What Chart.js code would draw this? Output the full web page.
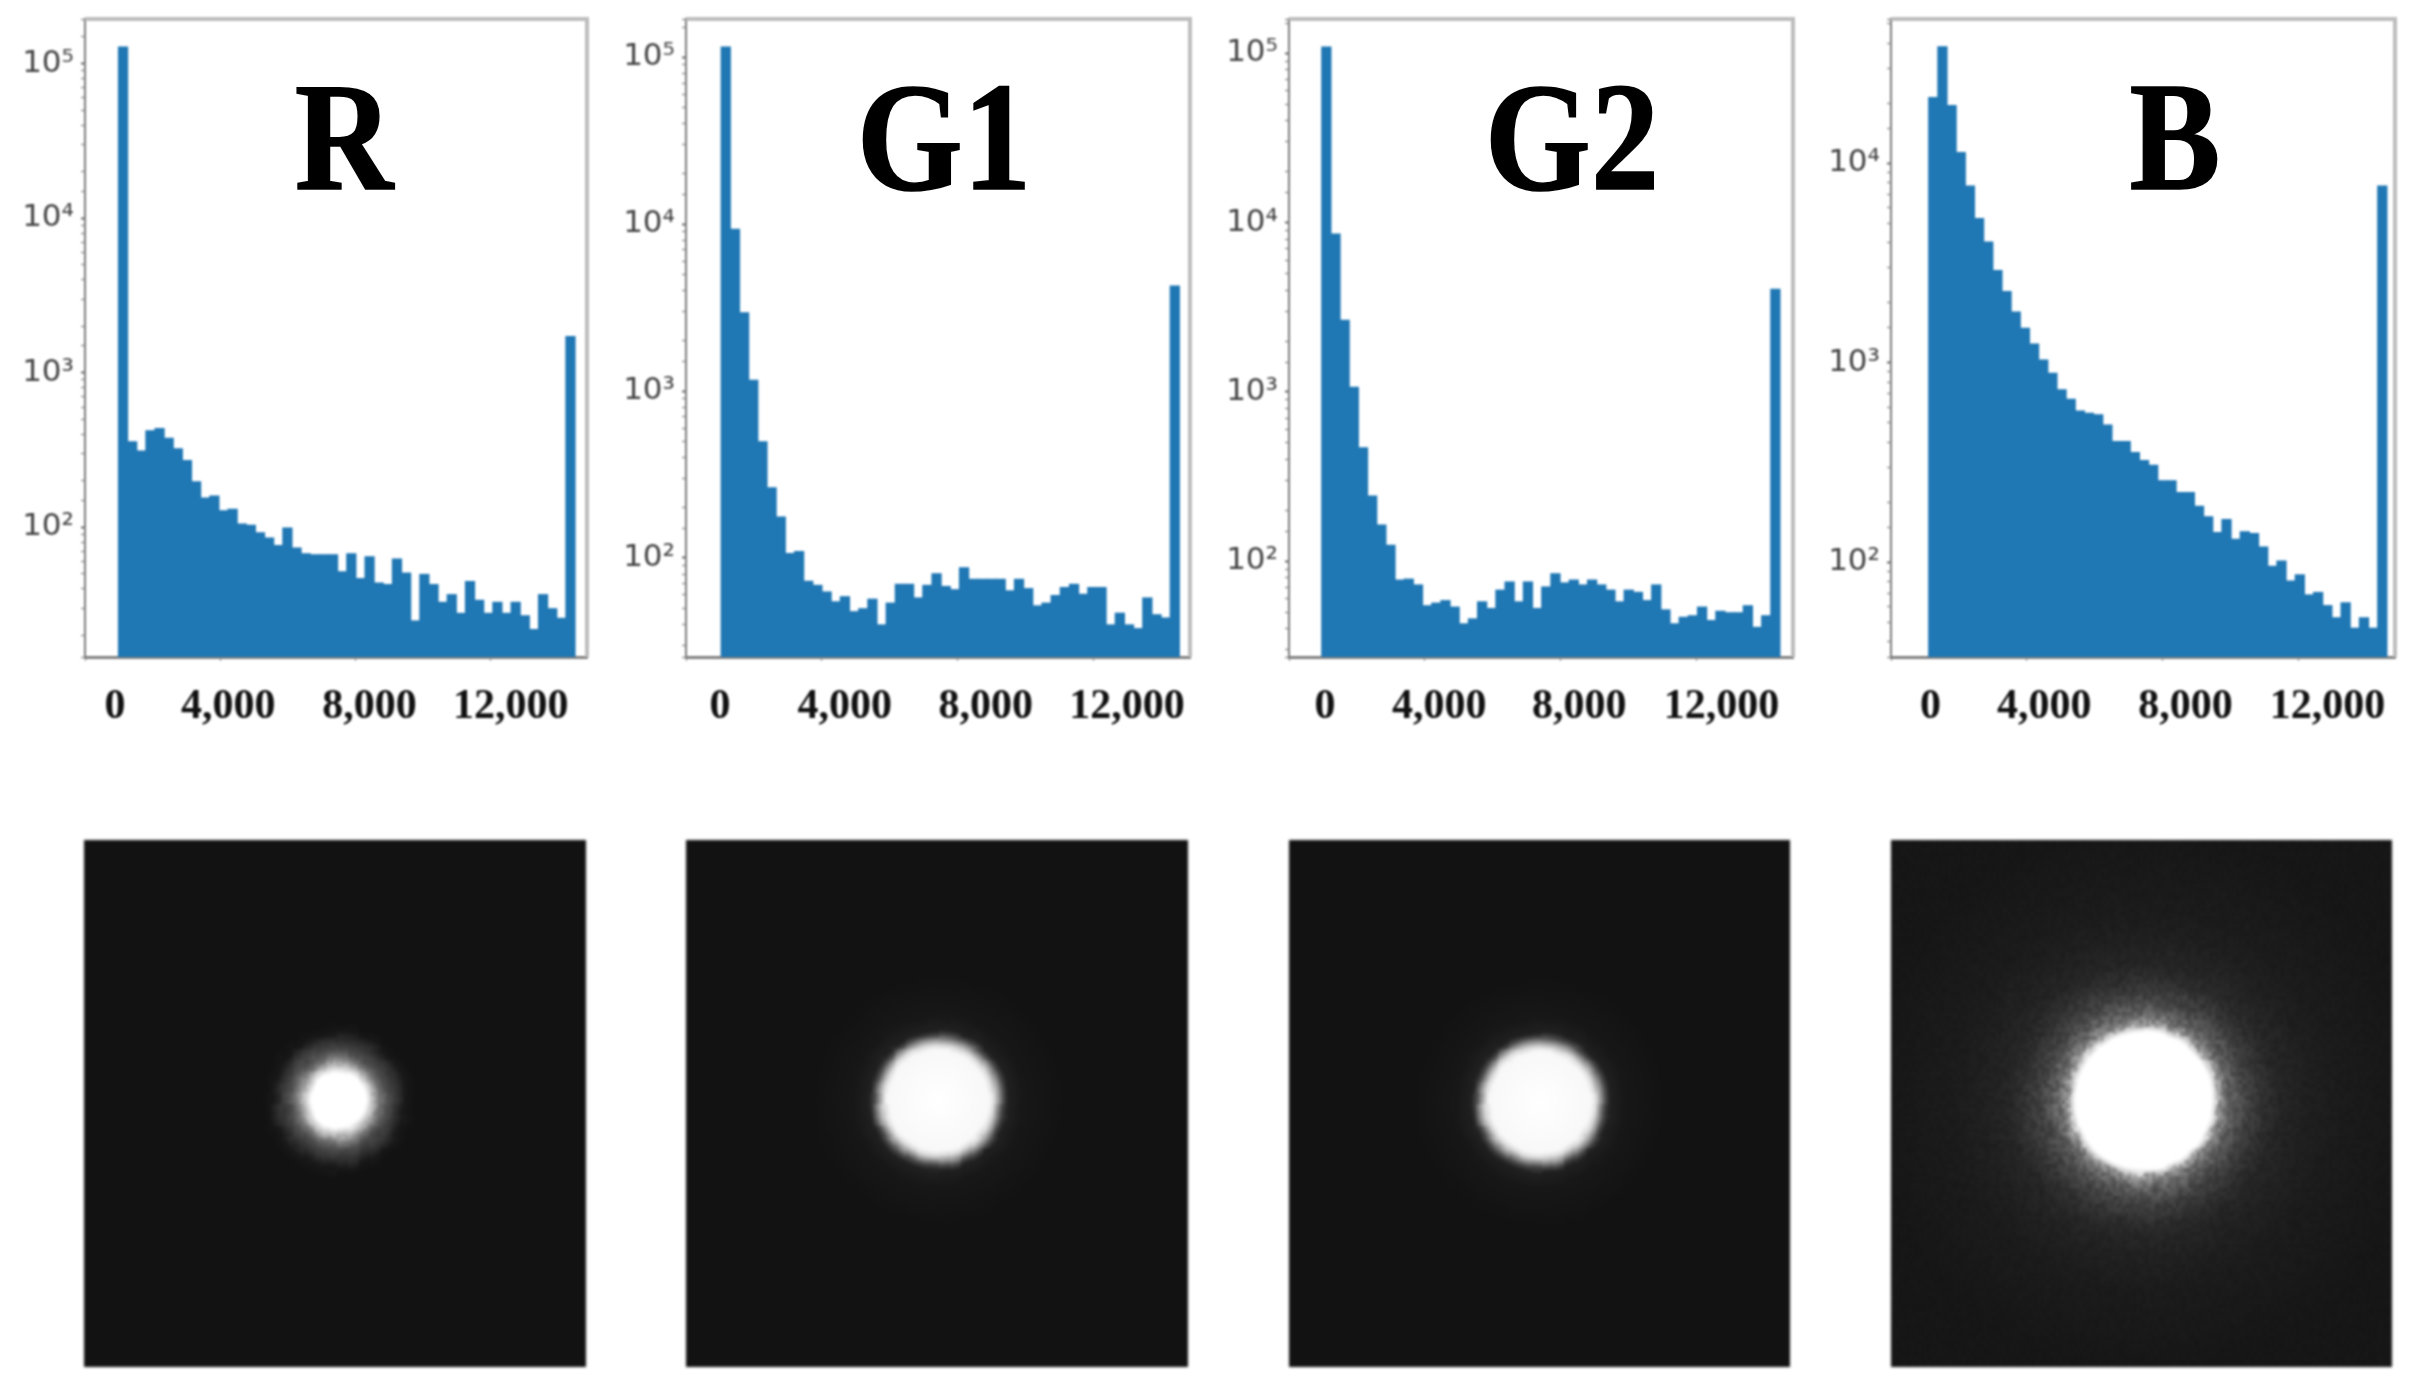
<!DOCTYPE html>
<html>
<head>
<meta charset="utf-8">
<title>R G1 G2 B histograms</title>
<script src="https://cdn.jsdelivr.net/npm/chart.js@4"></script>
<style>
  html, body { margin: 0; background: #fff; }
  #page { position: relative; width: 2410px; height: 1387px; overflow: hidden; }
  canvas { position: absolute; top: 0; filter: blur(0.8px); }
  .letter {
    position: absolute; top: 52px; width: 300px; text-align: center;
    font: bold 155px "Liberation Serif", serif; line-height: 170px; color: #000;
    -webkit-text-stroke: 1.5px #000;
    transform: scaleX(0.88); filter: blur(0.7px);
  }
  canvas.spot { top: 840px; filter: blur(1.7px); }
</style>
</head>
<body>
<div id="page"></div>
<script>
// histogram bin centres (shared, each channel is nudged by its own shift)
const binCenters = [1135, 1405, 1675, 1945, 2215, 2485, 2755, 3025, 3295, 3565, 3835, 4105, 4375, 4645, 4915, 5185, 5455,
  5725, 5995, 6265, 6535, 6805, 7075, 7345, 7615, 7885, 8155, 8425, 8695, 8965, 9235, 9505, 9775, 10045, 10315, 10585,
  10855, 11125, 11395, 11665, 11935, 12205, 12475, 12745, 13015, 13285, 13555, 13825, 14095, 14365];

const rCounts = [129400, 361, 314, 425, 440, 380, 325, 273, 199, 156, 161, 129, 132, 106, 104, 93, 86, 77, 100, 74, 68, 67, 67, 67,
  52, 68, 47, 65, 44, 43, 63, 51, 25, 50, 43, 33, 37, 28, 45, 34, 28, 33, 28, 33, 27, 22, 37, 30, 26, 1730];
const g1Counts = [116000, 9370, 2960, 1170, 501, 265, 177, 107, 110, 73, 69, 63, 55, 59, 48, 50, 57, 40, 54, 70, 70, 58, 69, 81,
  68, 65, 88, 75, 75, 75, 75, 64, 75, 66, 52, 54, 60, 67, 70, 61, 67, 67, 40, 47, 40, 38, 58, 46, 44, 4295];
const g2Counts = [110000, 8630, 2670, 1074, 472, 245, 165, 125, 78, 79, 73, 55, 57, 59, 54, 43, 46, 58, 53, 68, 76, 58, 76, 53,
  71, 85, 75, 78, 73, 78, 73, 68, 58, 68, 66, 59, 73, 52, 43, 47, 48, 54, 45, 51, 50, 50, 55, 41, 48, 4074];
const bCounts = [21500, 38600, 19600, 11400, 7740, 5320, 4050, 2920, 2290, 1810, 1500, 1250, 1040, 892, 737, 661, 577, 561, 552,
  490, 405, 405, 357, 326, 308, 258, 258, 225, 225, 192, 170, 142, 165, 131, 143, 140, 120, 96, 102, 81, 87, 69, 71, 61, 53, 63,
  47, 53, 47, 7740];

const xTicks = [0, 4000, 8000, 12000];
const xTickLabels = ['0', '4,000', '8,000', '12,000'];
const yTickLabels = { 100: '10²', 1000: '10³', 10000: '10⁴', 100000: '10⁵' };

// the x labels in the figure are pasted on and don't sit right under their ticks, so they get their own axis
const panels = [
  { title: 'R',  counts: rCounts,  left: 85,   width: 501, titleX: 344,  xMax: 14844, shift: -10, yMin: 14.5, yMax: 194600, labelAt: [889, 4237, 8415, 12593] },
  { title: 'G1', counts: g1Counts, left: 686,  width: 503, titleX: 944,  xMax: 14849, shift: 37,  yMin: 25.5, yMax: 169400, labelAt: [1004, 4680, 8828, 12990] },
  { title: 'G2', counts: g2Counts, left: 1289, width: 503, titleX: 1572, xMax: 14849, shift: -35, yMin: 27.2, yMax: 159700, labelAt: [1062, 4425, 8555, 12743] },
  { title: 'B',  counts: bCounts,  left: 1891, width: 503, titleX: 2175, xMax: 14849, shift: 110, yMin: 33.5, yMax: 52900,  labelAt: [1165, 4513, 8673, 12861] }
];

// brightness against distance from the spot centre, distance is in spot radii
const rProfile = [[0, 255], [0.85, 255], [1.1, 185], [1.3, 115], [1.5, 78], [1.8, 52], [2.1, 24], [2.4, 18]];
const greenProfile = [[0, 255], [1, 248], [1.1, 220], [1.2, 150], [1.3, 72], [1.4, 32], [1.7, 23], [2.5, 18]];
const bProfile = [[0, 255], [1, 255], [1.05, 225], [1.12, 150], [1.25, 100], [1.5, 66], [1.8, 45], [2, 37], [2.4, 31], [2.8, 27], [4, 22]];

// sensor crops under the histograms, photos rather than data so they are painted straight on a canvas
const spots = [
  { left: 84,   width: 502, cx: 254, cy: 260, radius: 32, profile: rProfile, jitter: 0.08, speckle: 0.15 },
  { left: 686,  width: 502, cx: 252, cy: 260, radius: 50, profile: greenProfile, jitter: 0.04, speckle: 0 },
  { left: 1289, width: 501, cx: 251, cy: 262, radius: 50, profile: greenProfile, jitter: 0.04, speckle: 0 },
  { left: 1891, width: 501, cx: 252, cy: 260, radius: 68, profile: bProfile, jitter: 0.03, speckle: 0.5 }
];

const barColor = '#1f77b4';
const page = document.getElementById('page');

// top and right sides of the axes box, the scales only give left and bottom
const boxSides = {
  id: 'boxSides',
  afterDraw(chart) {
    const { ctx, chartArea: a } = chart;
    ctx.save();
    ctx.strokeStyle = '#bdbdbd';
    ctx.lineWidth = 4;
    ctx.beginPath();
    ctx.moveTo(a.left, a.top);
    ctx.lineTo(a.right, a.top);
    ctx.lineTo(a.right, a.bottom);
    ctx.stroke();
    ctx.restore();
  }
};

panels.forEach((p) => {
  const canvas = document.createElement('canvas');
  canvas.style.left = '0px';
  page.appendChild(canvas);
  const cw = p.left + p.width + 12;
  canvas.width = cw;
  canvas.height = 740;
  canvas.style.width = cw + 'px';
  canvas.style.height = '740px';

  new Chart(canvas.getContext('2d'), {
    type: 'bar',
    data: {
      datasets: [{
        data: binCenters.map((c, i) => ({ x: c + p.shift, y: p.counts[i] })),
        backgroundColor: barColor,
        borderWidth: 0,
        barPercentage: 1.12,
        categoryPercentage: 1
      }]
    },
    options: {
      responsive: false,
      animation: false,
      devicePixelRatio: 1,
      layout: { padding: { top: 19, right: 11, left: p.left - 85, bottom: 0 } },
      plugins: { legend: { display: false }, tooltip: { enabled: false } },
      scales: {
        x: {
          type: 'linear',
          min: 0,
          max: p.xMax,
          offset: false,
          grid: { offset: false, drawOnChartArea: false, tickLength: 4, tickColor: '#888' },
          border: { color: '#808080', width: 3 },
          ticks: { display: false },
          afterBuildTicks(axis) { axis.ticks = xTicks.map((v) => ({ value: v })); },
          afterFit(axis) { axis.height = 8; }
        },
        xLabels: {
          type: 'linear',
          position: 'bottom',
          min: 0,
          max: p.xMax,
          offset: false,
          grid: { display: false },
          border: { display: false },
          ticks: {
            autoSkip: false,
            maxRotation: 0,
            padding: 9,
            color: '#111',
            font: { family: '"Liberation Serif", serif', weight: 'bold', size: 42 },
            callback: (v, i) => xTickLabels[i]
          },
          afterBuildTicks(axis) { axis.ticks = p.labelAt.map((v) => ({ value: v })); },
          afterFit(axis) { axis.height = 75; }
        },
        y: {
          type: 'logarithmic',
          min: p.yMin,
          max: p.yMax,
          grid: {
            drawOnChartArea: false,
            tickLength: 4,
            tickColor: (c) => (c.tick && yTickLabels[c.tick.value] ? '#666' : '#999'),
            tickWidth: (c) => (c.tick && yTickLabels[c.tick.value] ? 2 : 1.5)
          },
          border: { color: '#7d7d7d', width: 2 },
          ticks: {
            autoSkip: false,
            padding: 7,
            color: '#444',
            font: { family: '"DejaVu Sans"', size: 31 },
            callback: (v) => yTickLabels[v] || ''
          },
          afterFit(axis) {
            axis.width = 85;
            // big tick font would otherwise push the plot top down
            axis.paddingTop = 0;
            axis.paddingBottom = 0;
          }
        }
      }
    },
    plugins: [boxSides]
  });

  const letter = document.createElement('div');
  letter.className = 'letter';
  letter.textContent = p.title;
  letter.style.left = (p.titleX - 150) + 'px';
  page.appendChild(letter);
});

// repeatable grain so the spot edges come out speckled like the photo
function grain(x, y) {
  const s = Math.sin(x * 12.9898 + y * 78.233) * 43758.5453;
  return s - Math.floor(s);
}

function brightness(profile, r) {
  for (let i = 1; i < profile.length; i++) {
    if (r <= profile[i][0]) {
      const [r0, v0] = profile[i - 1];
      const [r1, v1] = profile[i];
      return v0 + (v1 - v0) * (r - r0) / (r1 - r0);
    }
  }
  return profile[profile.length - 1][1];
}

spots.forEach((s) => {
  const c = document.createElement('canvas');
  c.className = 'spot';
  c.width = s.width;
  c.height = 527;
  c.style.left = s.left + 'px';
  page.appendChild(c);
  const ctx = c.getContext('2d');
  const img = ctx.createImageData(s.width, 527);
  for (let y = 0; y < 527; y++) {
    for (let x = 0; x < s.width; x++) {
      const fine = grain(Math.floor(x / 3), Math.floor(y / 4)) - 0.5;
      const coarse = grain(Math.floor(x / 11) + 50, Math.floor(y / 11) + 50) - 0.5;
      const d = Math.hypot(x - s.cx, y - s.cy) / s.radius;
      let v = brightness(s.profile, d * (1 + s.jitter * coarse));
      if (v < 200) v = 18 + (v - 18) * (1 + s.speckle * fine);
      const k = (y * s.width + x) * 4;
      img.data[k] = img.data[k + 1] = img.data[k + 2] = v;
      img.data[k + 3] = 255;
    }
  }
  ctx.putImageData(img, 0, 0);
});
</script>
</body>
</html>
